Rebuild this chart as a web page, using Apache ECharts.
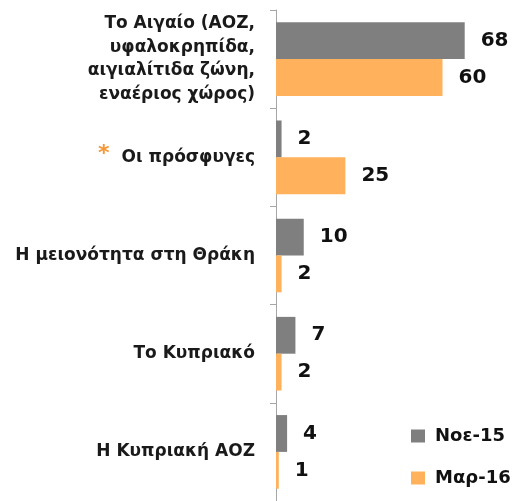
<!DOCTYPE html>
<html>
<head>
<meta charset="utf-8">
<script src="https://cdn.jsdelivr.net/npm/echarts@6/dist/echarts.min.js"></script>
<style>
  html, body { margin: 0; padding: 0; background: #fff; }
  #main { width: 532px; height: 501px; }
</style>
</head>
<body>
<div id="main"></div>
<script>
const categories = [
  "Το Αιγαίο (ΑΟΖ,\nυφαλοκρηπίδα,\nαιγιαλίτιδα ζώνη,\nεναέριος χώρος)",
  "Οι πρόσφυγες",
  "Η μειονότητα στη Θράκη",
  "Το Κυπριακό",
  "Η Κυπριακή ΑΟΖ"
];
const starred = ["Οι πρόσφυγες"];
const seriesNames = ["Νοε-15", "Μαρ-16"];
const nov15 = [68, 2, 10, 7, 4];
const mar16 = [60, 25, 2, 2, 1];

const chart = echarts.init(document.getElementById("main"));

const labelStyle = {
  show: true,
  position: "right",
  distance: 16,
  color: "#111",
  fontSize: 20,
  fontWeight: "bold",
  fontFamily: "DejaVu Sans"
};

// one legend per series so they stack like the original
const legendFor = (name, top) => ({
  left: 411,
  top: top,
  padding: 0,
  icon: "rect",
  itemWidth: 14,
  itemHeight: 13,
  data: [name],
  textStyle: {
    color: "#111",
    fontSize: 18,
    fontWeight: "bold",
    fontFamily: "DejaVu Sans",
    padding: [0, 0, 0, 5]
  }
});

const option = {
  animation: false,
  grid: {
    left: 276,
    right: 34,
    top: 10,
    bottom: -2
  },
  legend: [legendFor(seriesNames[0], 427), legendFor(seriesNames[1], 469)],
  xAxis: {
    type: "value",
    min: 0,
    max: 80,
    show: false
  },
  yAxis: {
    type: "category",
    inverse: true,
    data: categories,
    axisLine: { show: true, lineStyle: { color: "#a6a6a6", width: 1 } },
    axisTick: { show: true, length: 6, lineStyle: { color: "#a6a6a6" } },
    axisLabel: {
      margin: 21,
      color: "#1a1a1a",
      fontSize: 17,
      fontWeight: "bold",
      fontFamily: "DejaVu Sans",
      lineHeight: 23.5,
      align: "right",
      formatter: (v) => (starred.includes(v) ? "{star|*}" + v : v),
      rich: {
        star: {
          color: "#f79633",
          fontSize: 22,
          fontWeight: "bold",
          padding: [0, 12, 6, 0]
        }
      }
    }
  },
  series: [
    {
      name: seriesNames[0],
      type: "bar",
      data: nov15,
      barGap: "0%",
      barCategoryGap: "25%",
      itemStyle: { color: "#7f7f7f" },
      label: labelStyle
    },
    {
      name: seriesNames[1],
      type: "bar",
      data: mar16,
      itemStyle: { color: "#ffb15c" },
      label: labelStyle
    }
  ]
};

chart.setOption(option);
</script>
</body>
</html>
